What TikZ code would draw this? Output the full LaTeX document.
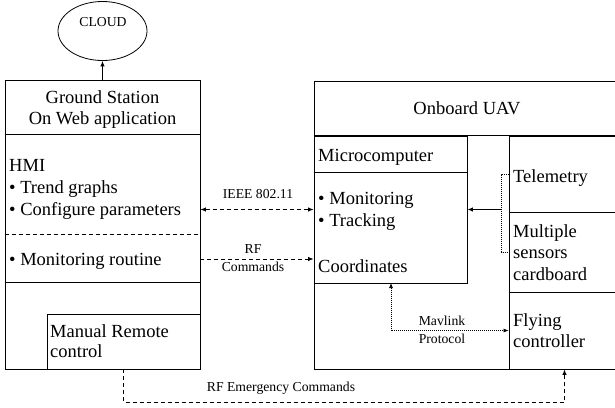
\documentclass[tikz,border=0pt]{standalone}
\usepackage{fontspec}
\setmainfont{Liberation Serif}
\usetikzlibrary{arrows.meta,shapes.geometric}
\begin{document}
\begin{tikzpicture}[x=1pt,y=-1pt,
  boxline/.style={draw,line width=0.9pt,inner sep=0},
  big/.style={font=\fontsize{18.5}{22}\selectfont,inner sep=0},
  small/.style={font=\fontsize{13.7}{16}\selectfont,inner sep=0},
  arr/.style={-{Latex[length=5.5pt,width=4.5pt]}},
  dashln/.style={dash pattern=on 4pt off 3pt,line width=0.8pt},
  dotln/.style={dash pattern=on 1pt off 1pt,line width=0.7pt}]
\useasboundingbox (0,0) rectangle (615,407);
% cloud
\node[boxline,ellipse,line width=0.8pt,minimum width=89,minimum height=59] (cloud) at (102.5,31) {};
\node[small,anchor=base] (cloudtxt) at (103,26) {CLOUD};
% ground station
\node[boxline,minimum width=195,minimum height=289] (ground) at (102.5,224.5) {};
\draw[line width=0.9pt] (ground.north west) ++(0,55) -- ++(195,0);
\draw[dashln] (ground.north west) ++(0,155) -- ++(195,0);
\draw[line width=0.9pt] (ground.north west) ++(0,203) -- ++(195,0);
\node[boxline,minimum width=153,minimum height=55] (manual) at (123.5,341.5) {};
\node[big,anchor=base] (gs1) at (102.5,103) {Ground Station};
\node[big,anchor=base] (gs2) at (102.5,124) {On Web application};
\node[big,anchor=base west] (hmi) at (9,171) {HMI};
\node[big,anchor=base west] (trend) at (9,193) {\textbullet~Trend graphs};
\node[big,anchor=base west] (conf) at (9,215) {\textbullet~Configure parameters};
\node[big,anchor=base west] (monr) at (9,265) {\textbullet~Monitoring routine};
\node[big,anchor=base west] (man1) at (50,337) {Manual Remote};
\node[big,anchor=base west] (man2) at (50,357) {control};
% onboard UAV
\node[boxline,minimum width=306,minimum height=288] (uav) at (467,225) {};
\draw[line width=0.9pt] (uav.north west) ++(0,55) -- ++(306,0);
\node[big,anchor=base] (uavt) at (467,114) {Onboard UAV};
\node[boxline,minimum width=153,minimum height=147] (mc) at (390.5,209.5) {};
\draw[line width=0.9pt] (mc.north west) ++(0,37) -- ++(153,0);
\node[boxline,minimum width=111,minimum height=76] (telem) at (564.5,174) {};
\node[boxline,minimum width=111,minimum height=80] (sensors) at (564.5,252) {};
\node[boxline,minimum width=111,minimum height=77] (flying) at (564.5,330.5) {};
\node[big,anchor=base west] (mct) at (318,161) {Microcomputer};
\node[big,anchor=base west] (mon) at (318,204) {\textbullet~Monitoring};
\node[big,anchor=base west] (trk) at (318,226) {\textbullet~Tracking};
\node[big,anchor=base west] (coord) at (318,272) {Coordinates};
\node[big,anchor=base west] (tel) at (513,182) {Telemetry};
\node[big,anchor=base west] (ms1) at (513,237) {Multiple};
\node[big,anchor=base west] (ms2) at (513,258) {sensors};
\node[big,anchor=base west] (ms3) at (513,280) {cardboard};
\node[big,anchor=base west] (fc1) at (513,326) {Flying};
\node[big,anchor=base west] (fc2) at (513,347) {controller};
% connectors
\draw[arr,line width=0.9pt] (ground.north) -- (cloud.south);
\draw[dashln,{Latex[length=5.5pt,width=4.5pt]}-{Latex[length=5.5pt,width=4.5pt]}] (mc.west -| ground.east) -- (mc.west);
\node[small,anchor=base] (ieee) at (258,198) {IEEE 802.11};
\coordinate (rfl) at (200,259);
\draw[dashln,arr] (rfl) -- (rfl -| mc.west);
\node[small,anchor=base] (rf1) at (253,253) {RF};
\node[small,anchor=base] (rf2) at (253,271) {Commands};
\draw[dotln] (telem.west) -- ++(-7,0) |- (sensors.west);
\coordinate (brk) at (502,209.5);
\draw[arr,line width=0.9pt] (brk) -- (brk -| mc.east);
\coordinate (mv) at (391,283);
\draw[dotln,{Latex[length=5pt,width=4pt]}-{Latex[length=5pt,width=4pt]}] (mv) |- (flying.west);
\node[small,anchor=base] (mav1) at (442,325) {Mavlink};
\node[small,anchor=base] (mav2) at (442,343) {Protocol};
\draw[dashln,arr] (manual.south) -- ++(0,33) -| (flying.south);
\node[small,anchor=base] (emg) at (281,391) {RF Emergency Commands};
\end{tikzpicture}
\end{document}
